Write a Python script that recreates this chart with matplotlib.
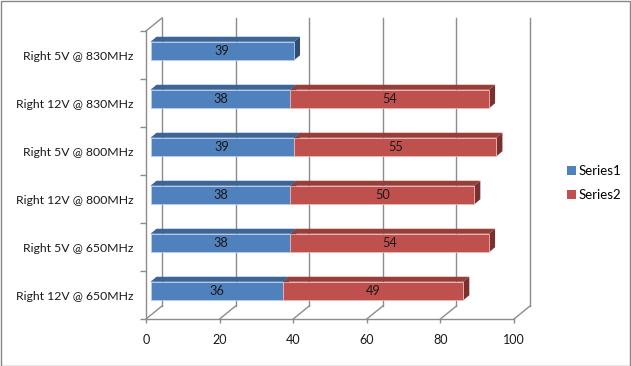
import matplotlib
matplotlib.use("Agg")
import matplotlib.pyplot as plt
from matplotlib.patches import Polygon, Rectangle, Patch
from matplotlib.lines import Line2D

plt.rcParams['font.family'] = ['Lato', 'DejaVu Sans']

categories = ["Right 12V @ 650MHz", "Right 5V @ 650MHz", "Right 12V @ 800MHz",
              "Right 5V @ 800MHz", "Right 12V @ 830MHz", "Right 5V @ 830MHz"]
series1 = [36, 38, 38, 39, 38, 39]
series2 = [49, 54, 50, 55, 54, 0]
series_names = ["Series1", "Series2"]
xticks = [0, 20, 40, 60, 80, 100]

front_colors = ["#4F81BD", "#C0504D"]
top_colors = ["#3C6494", "#973E3B"]
side_colors = ["#2E4D73", "#7A302D"]
grid_color = "#8C8C8C"
text_color = "#1A1A1A"

W, H = 631, 366
fig = plt.figure(figsize=(W / 100, H / 100), dpi=100)

ax_l, ax_r, ax_t, ax_b = 146, 514, 31, 319
ax = fig.add_axes([ax_l / W, 1 - ax_b / H, (ax_r - ax_l) / W, (ax_b - ax_t) / H])
ax.set_xlim(0, 100)
ax.set_ylim(-0.5, len(categories) - 0.5)
ax.set_facecolor("none")

# pixel -> data conversions
px_x = 100 / (ax_r - ax_l)
px_y = len(categories) / (ax_b - ax_t)

# wall depth offset
dwx, dwy = 16 * px_x, 13 * px_y
ylo, yhi = -0.5, len(categories) - 0.5

# back wall gridlines & floor diagonals
for xv in xticks:
    ax.add_line(Line2D([xv + dwx, xv + dwx], [ylo + dwy, yhi + dwy], color=grid_color,
                       lw=1.0, clip_on=False, zorder=1))
    ax.add_line(Line2D([xv, xv + dwx], [ylo, ylo + dwy], color=grid_color,
                       lw=1.0, clip_on=False, zorder=1))
# left wall top diagonal
ax.add_line(Line2D([0, dwx], [yhi, yhi + dwy], color=grid_color, lw=1.0, clip_on=False, zorder=1))

# bars
bx, by = 4.5 * px_x, 4.0 * px_y      # bar front-face offset
tdx, tdy = 6 * px_x, 5 * px_y        # bar depth
bh = 18.5 * px_y
for i, cat in enumerate(categories):
    left = 0
    yc = i + by
    y0, y1 = yc - bh / 2, yc + bh / 2
    for s, vals in enumerate([series1, series2]):
        v = vals[i]
        if v <= 0:
            continue
        x0 = left + bx
        x1 = x0 + v
        ax.add_patch(Polygon([[x1, y0], [x1, y1], [x1 + tdx, y1 + tdy], [x1 + tdx, y0 + tdy]],
                             closed=True, facecolor=side_colors[s], edgecolor="none",
                             clip_on=False, zorder=3 + s))
        ax.add_patch(Polygon([[x0, y1], [x1, y1], [x1 + tdx, y1 + tdy], [x0 + tdx, y1 + tdy]],
                             closed=True, facecolor=top_colors[s], edgecolor="none",
                             clip_on=False, zorder=3 + s))
        ax.add_patch(Rectangle((x0, y0), v, bh, facecolor=front_colors[s],
                               edgecolor="#B9CDE5" if s == 0 else "#E6B9B8", lw=0.6,
                               clip_on=False, zorder=3 + s))
        ax.text(x0 + v / 2, yc, str(v), ha="center", va="center", fontsize=9.2,
                color=text_color, zorder=6)
        left += v

# axes styling
for sp in ["top", "right"]:
    ax.spines[sp].set_visible(False)
for sp in ["left", "bottom"]:
    ax.spines[sp].set_color(grid_color)
    ax.spines[sp].set_linewidth(1.0)

ax.set_xticks(xticks)
ax.set_xticklabels([str(x) for x in xticks], fontsize=9, color=text_color)
ax.tick_params(axis="x", direction="out", length=3, width=1, color=grid_color, pad=8)

ax.set_yticks([k - 0.5 for k in range(len(categories) + 1)])
ax.set_yticklabels([])
ax.set_yticks(range(len(categories)), minor=True)
ax.set_yticklabels(categories, minor=True, fontsize=8.8, color=text_color)
ax.tick_params(axis="y", which="major", direction="out", length=4, width=1, color=grid_color)
ax.tick_params(axis="y", which="minor", length=0, pad=9)

handles = [Patch(facecolor=front_colors[0]), Patch(facecolor=front_colors[1])]
fig.legend(handles, series_names, loc="center left", bbox_to_anchor=(555 / W, 1 - 183 / H),
           frameon=False, fontsize=9.5, handlelength=0.7, handleheight=0.7,
           handletextpad=0.15, labelspacing=0.9)

# outer border
fig.add_artist(Rectangle((0.5 / W, 0.5 / H), 1 - 1.5 / W, 1 - 1.5 / H, transform=fig.transFigure,
                         facecolor="none", edgecolor="#868686", lw=1.0))

fig.savefig("out.png", dpi=100)
